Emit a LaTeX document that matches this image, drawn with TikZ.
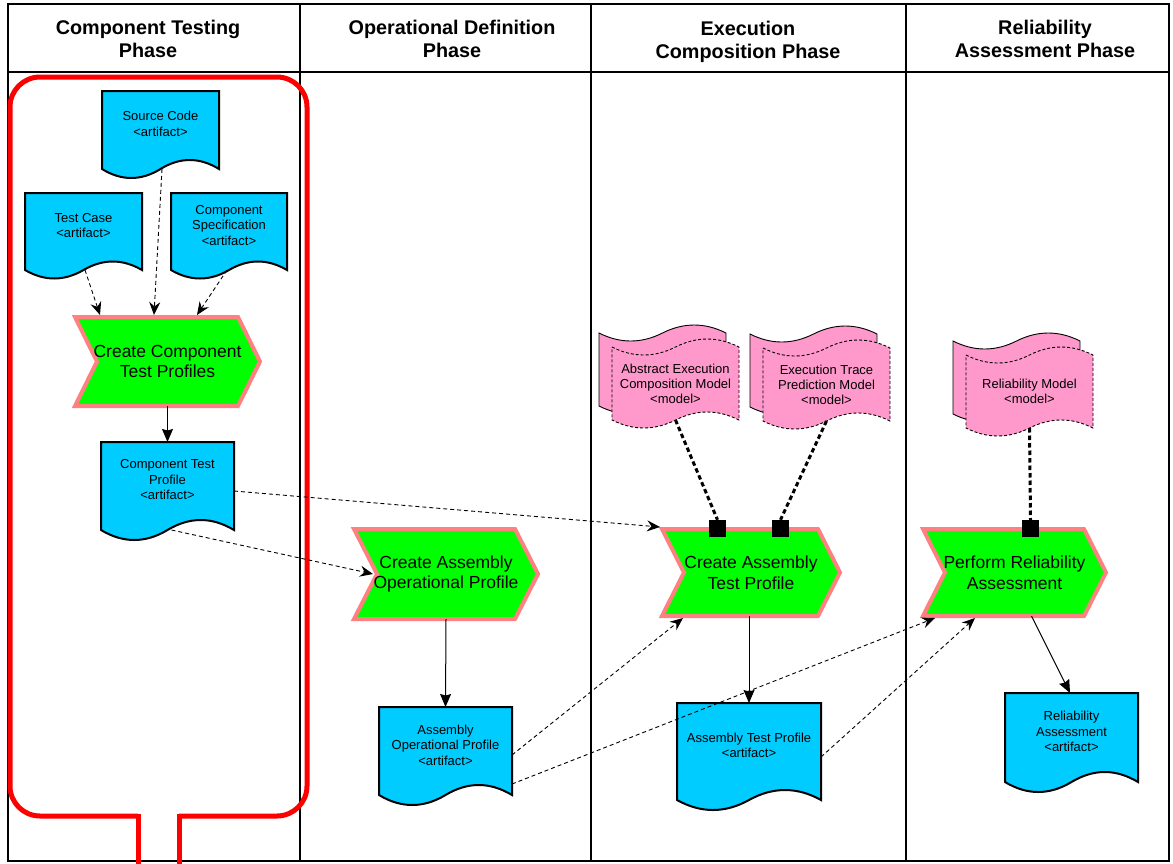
\documentclass[tikz,border=0pt]{standalone}
\usepackage{fontspec}
\setmainfont{Liberation Sans}
\usetikzlibrary{arrows.meta,calc}

\definecolor{actgreen}{HTML}{00FF00}
\definecolor{actedge}{HTML}{FF8080}
\definecolor{docblue}{HTML}{00CCFF}
\definecolor{modelpink}{HTML}{FF99CC}

\tikzset{
  frameline/.style={line width=2pt, draw=black},
  phasetitle/.style={font=\fontsize{19.8}{23}\selectfont\bfseries, align=center, inner sep=0},
  anchorbox/.style={rectangle, draw=none, inner sep=0, outer sep=0},
  docshape/.style={fill=docblue, draw=black, line width=2pt},
  doctext/.style={font=\fontsize{13}{15.5}\selectfont, align=center, inner sep=0},
  actshape/.style={fill=actgreen, draw=actedge, line width=4pt, line join=miter},
  acttext/.style={font=\fontsize{17.5}{20.5}\selectfont, align=center, inner sep=0},
  modelback/.style={fill=modelpink, draw=black, line width=0.9pt},
  modelfront/.style={fill=modelpink, draw=black, line width=0.9pt, dash pattern=on 3pt off 2pt},
  modeltext/.style={font=\fontsize{13}{15}\selectfont, align=center, inner sep=0},
  port/.style={fill=black, inner sep=0, minimum size=17pt},
  modellink/.style={line width=3pt, dash pattern=on 4.5pt off 3pt},
  flow/.style={line width=1pt, -{Stealth[length=13pt,width=11pt,inset=1.5pt]}},
  dataflow/.style={line width=0.9pt, dash pattern=on 4pt off 3pt, -{Stealth[length=13pt,width=11pt,inset=4.5pt]}},
  scopeframe/.style={draw=red, line width=5pt},
}

% document shape with a wavy lower edge
% #1 name, #2 left, #3 right, #4 top, #5 wave midline, #6 wave amplitude, #7 text
\newcommand\artifactdoc[7]{%
  \path[docshape] (#2,#4) -- (#3,#4) -- (#3,#5)
    .. controls ({(#3)-((#3)-(#2))/6},{(#5)-4*(#6)/3}) and ({(#3)-((#3)-(#2))/3},{(#5)-4*(#6)/3}) .. ({((#2)+(#3))/2},#5)
    .. controls ({((#2)+(#3))/2-((#3)-(#2))/6},{(#5)+4*(#6)/3}) and ({((#2)+(#3))/2-((#3)-(#2))/3},{(#5)+4*(#6)/3}) .. (#2,#5)
    -- cycle;
  \node[anchorbox, minimum width={(#3)-(#2)}, minimum height={(#5)-(#4)}] (#1) at ({((#2)+(#3))/2},{((#4)+(#5))/2}) {};
  \node[doctext] (#1-text) at ([yshift=6pt]#1.center) {#7};
}

% activity chevron
% #1 name, #2 left, #3 tip, #4 top, #5 bottom, #6 slant width, #7 text
\newcommand\actchevron[7]{%
  \node[anchorbox, minimum width={(#3)-(#2)}, minimum height={(#5)-(#4)}] (#1) at ({((#2)+(#3))/2},{((#4)+(#5))/2}) {};
  \path[actshape] (#1.north west) -- ([xshift=-#6pt]#1.north east) -- (#1.east)
    -- ([xshift=-#6pt]#1.south east) -- (#1.south west) -- ([xshift=#6pt]#1.west) -- cycle;
  \node[acttext] (#1-text) at (#1.center) {#7};
}

% sheet with wavy top and bottom edges (numbers only)
% #1 left, #2 right, #3 top, #4 bottom, #5 style
\newcommand\wavesheet[5]{%
  \path[#5] (#1,#3)
    .. controls ({#1+(#2-#1)/6},{#3+32/3}) and ({#1+(#2-#1)/3},{#3+32/3}) .. ({(#1+#2)/2},#3)
    .. controls ({(#1+#2)/2+(#2-#1)/6},{#3-32/3}) and ({(#1+#2)/2+(#2-#1)/3},{#3-32/3}) .. (#2,#3)
    -- (#2,#4)
    .. controls ({#2-(#2-#1)/6},{#4-32/3}) and ({#2-(#2-#1)/3},{#4-32/3}) .. ({(#1+#2)/2},#4)
    .. controls ({(#1+#2)/2-(#2-#1)/6},{#4+32/3}) and ({(#1+#2)/2-(#2-#1)/3},{#4+32/3}) .. (#1,#4)
    -- cycle;
}

% model: two stacked wavy sheets
% #1 name, #2 left of back sheet, #3 top of back sheet, #4 text
\newcommand\modelflag[4]{%
  \pgfmathsetmacro\mfbr{#2+127}%
  \pgfmathsetmacro\mfbb{#3+73}%
  \pgfmathsetmacro\mffl{#2+13}%
  \pgfmathsetmacro\mffr{#2+140}%
  \pgfmathsetmacro\mfft{#3+14}%
  \pgfmathsetmacro\mffb{#3+87}%
  \wavesheet{#2}{\mfbr}{#3}{\mfbb}{modelback}
  \wavesheet{\mffl}{\mffr}{\mfft}{\mffb}{modelfront}
  \node[anchorbox, minimum width=127, minimum height=73] (#1) at ({#2+76.5},{#3+50.5}) {};
  \node[modeltext] (#1-text) at (#1.center) {#4};
}

\begin{document}
\begin{tikzpicture}[x=1pt, y=-1pt]
\useasboundingbox (0,0) rectangle (1173,863);

% swimlane table
\draw[frameline] (8,4) rectangle (1169,861);
\draw[frameline] (8,72) -- (1169,72);
\draw[frameline] (300,4) -- (300,861);
\draw[frameline] (591,4) -- (591,861);
\draw[frameline] (906,4) -- (906,861);

\node[phasetitle] (lane1) at (148,38.5) {Component Testing\\Phase};
\node[phasetitle] (lane2) at (452,38.5) {Operational Definition\\Phase};
\node[phasetitle] (lane3) at (748,41.5) {Execution\\Composition Phase};
\node[phasetitle] (lane4) at (1045,38.5) {Reliability\\Assessment Phase};

% component testing boundary
\draw[scopeframe, rounded corners=30pt] (138,816) -- (10,816) -- (10,77) -- (307,77) -- (307,816) -- (179,816);
\draw[scopeframe, line cap=rect] (138,816) -- (138,870);
\draw[scopeframe, line cap=rect] (179,816) -- (179,870);

% artifacts
\artifactdoc{sc}{102}{219}{91}{169}{9}{Source Code\\<artifact>}
\artifactdoc{tc}{25}{142}{193}{270}{8.5}{Test Case\\<artifact>}
\artifactdoc{cs}{171}{287}{193}{270}{8.5}{Component\\Specification\\<artifact>}
\artifactdoc{ctp}{101}{234}{442}{530}{10}{Component Test\\Profile\\<artifact>}
\artifactdoc{aop}{379}{512}{707}{795}{10}{Assembly\\Operational Profile\\<artifact>}
\artifactdoc{atp}{677}{821}{703}{800}{10}{Assembly Test Profile\\<artifact>}
\artifactdoc{ra}{1005}{1138}{693}{782}{10}{Reliability\\Assessment\\<artifact>}

% activities
\actchevron{cctp}{75}{260}{317}{406}{22}{Create Component\\Test Profiles}
\actchevron{caop}{354}{538}{529}{619}{23}{Create Assembly\\Operational Profile}
\actchevron{catp}{662}{840}{529}{616}{22}{Create Assembly\\Test Profile}
\actchevron{pra}{923}{1106}{529}{616}{22}{Perform Reliability\\Assessment}

% models
\modelflag{aecm}{599}{333}{Abstract Execution\\Composition Model\\<model>}
\modelflag{etpm}{750}{334}{Execution Trace\\Prediction Model\\<model>}
\modelflag{rm}{953}{341}{Reliability Model\\<model>}

% model links
\node[port] (sq1) at (717.5,528.5) {};
\node[port] (sq2) at (780.5,528.5) {};
\node[port] (sq3) at (1030.5,528.5) {};
\draw[modellink] (aecm.south) -- (sq1.north);
\draw[modellink] (etpm.south) -- (sq2.north);
\draw[modellink] (rm.south) -- (sq3.north);

% inputs and outputs
\draw[dataflow] ([xshift=1.5pt]tc.south) -- ([xshift=25pt,yshift=2pt]cctp.north west);
\draw[dataflow] ([xshift=1.5pt]sc.south) -- ([xshift=79pt,yshift=2pt]cctp.north west);
\draw[dataflow] ([xshift=-2pt]cs.south) -- ([xshift=122pt,yshift=2pt]cctp.north west);
\draw[flow] (cctp.south) -- (ctp.north);
\draw[dataflow] ([yshift=-5pt]ctp.east) -- ([xshift=-2pt,yshift=2pt]catp.north west);
\draw[dataflow] ([xshift=4pt]ctp.south) -- ([xshift=19pt]caop.west);
\draw[flow] (caop.south) -- (aop.north);
\draw[dataflow] ([yshift=-4pt]aop.east) -- ([xshift=21pt,yshift=-2pt]catp.south west);
\draw[dataflow] ([yshift=-33pt]aop.east) -- ([xshift=12pt,yshift=-2pt]pra.south west);
\draw[flow] (catp.south -| atp.north) -- (atp.north);
\draw[dataflow] ([yshift=-5.5pt]atp.east) -- ([xshift=52pt,yshift=-2pt]pra.south west);
\draw[flow] ([xshift=17pt]pra.south) -- ([xshift=-1.5pt]ra.north);
\end{tikzpicture}
\end{document}
